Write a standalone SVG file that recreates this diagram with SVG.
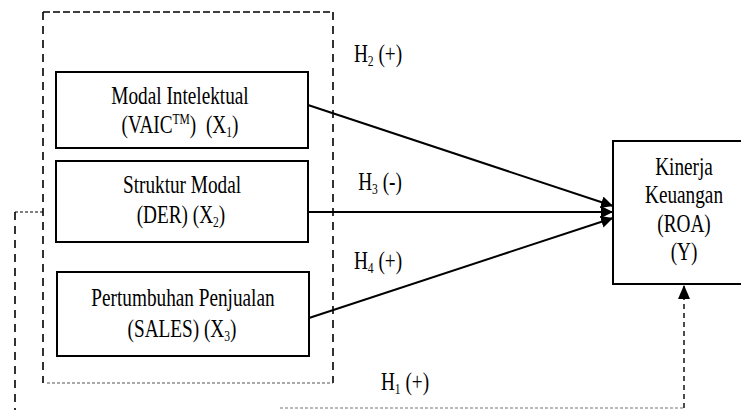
<svg xmlns="http://www.w3.org/2000/svg" width="741" height="410" viewBox="0 0 741 410">
<style>
.box{fill:#fff;stroke:#000;stroke-width:2}
.t{font-family:"Liberation Serif","Times New Roman",serif;font-size:25px;fill:#000;text-anchor:middle}
.sub{font-size:15px}
.edge{stroke:#000;stroke-width:2;fill:none}
</style>
<defs>
<marker id="ah" markerUnits="userSpaceOnUse" markerWidth="14" markerHeight="14" refX="12" refY="6" orient="auto">
<path d="M0,0 L12,6 L0,12 Z" fill="#000"/>
</marker>
<marker id="ah2" markerUnits="userSpaceOnUse" markerWidth="14" markerHeight="16" refX="14" refY="6" orient="auto">
<path d="M0,0 L14,6 L0,12 Z" fill="#000"/>
</marker>
</defs>
<rect width="741" height="410" fill="#fff"/>

<g id="group-outline">
<path d="M43,12 H333" stroke="#000" stroke-width="1.6" stroke-dasharray="7,3" fill="none"/>
<path d="M43,12 V383 M333,12 V383" stroke="#000" stroke-width="1.6" stroke-dasharray="8,6" fill="none"/>
<path d="M47,383 H333" stroke="#555" stroke-width="1.2" stroke-dasharray="3,2" fill="none"/>
</g>

<g id="connectors">
<line class="edge" x1="308" y1="105" x2="613" y2="206" marker-end="url(#ah)"/>
<line class="edge" x1="305" y1="212" x2="613" y2="212" marker-end="url(#ah)"/>
<line class="edge" x1="309" y1="318" x2="613" y2="218" marker-end="url(#ah)"/>
<path d="M43,212 H15" stroke="#000" stroke-width="1.2" stroke-dasharray="3,2" fill="none"/>
<path d="M15,212 V410" stroke="#000" stroke-width="1.6" stroke-dasharray="8,6" fill="none"/>
<path d="M280,408 H684" stroke="#777" stroke-width="1.2" stroke-dasharray="3,2" fill="none"/>
<path d="M684,408 V285" stroke="#000" stroke-width="1.4" stroke-dasharray="5,4" fill="none" marker-end="url(#ah2)"/>
</g>

<g id="labels">
<text class="t" transform="translate(378,0) scale(0.77,1)" x="0" y="62" xml:space="preserve">H<tspan class="sub" dy="4">2</tspan><tspan dy="-4"> (+)</tspan></text>
<text class="t" transform="translate(380,0) scale(0.77,1)" x="0" y="190" xml:space="preserve">H<tspan class="sub" dy="4">3</tspan><tspan dy="-4"> (-)</tspan></text>
<text class="t" transform="translate(378,0) scale(0.77,1)" x="0" y="269" xml:space="preserve">H<tspan class="sub" dy="4">4</tspan><tspan dy="-4"> (+)</tspan></text>
<text class="t" transform="translate(405,0) scale(0.77,1)" x="0" y="390" xml:space="preserve">H<tspan class="sub" dy="4">1</tspan><tspan dy="-4"> (+)</tspan></text>
</g>

<g id="node-x1">
<rect class="box" x="56" y="72" width="252" height="76"/>
<text class="t" transform="translate(180,0) scale(0.77,1)" x="0" y="104">Modal Intelektual</text>
<text class="t" transform="translate(180,0) scale(0.77,1)" x="0" y="133" xml:space="preserve">(VAIC<tspan class="sub" dy="-9">TM</tspan><tspan dy="9">)  (X</tspan><tspan class="sub" dy="4">1</tspan><tspan dy="-4">)</tspan></text>
</g>

<g id="node-x2">
<rect class="box" x="56" y="161" width="252" height="81"/>
<text class="t" transform="translate(182,0) scale(0.77,1)" x="0" y="193">Struktur Modal</text>
<text class="t" transform="translate(181,0) scale(0.77,1)" x="0" y="223">(DER) (X<tspan class="sub" dy="4">2</tspan><tspan dy="-4">)</tspan></text>
</g>

<g id="node-x3">
<rect class="box" x="57" y="272" width="252" height="84"/>
<text class="t" transform="translate(183,0) scale(0.77,1)" x="0" y="306">Pertumbuhan Penjualan</text>
<text class="t" transform="translate(182,0) scale(0.77,1)" x="0" y="337">(SALES) (X<tspan class="sub" dy="4">3</tspan><tspan dy="-4">)</tspan></text>
</g>

<g id="node-y">
<rect class="box" x="613" y="141" width="140" height="143"/>
<text class="t" transform="translate(684,0) scale(0.77,1)" x="0" y="175">Kinerja</text>
<text class="t" transform="translate(684,0) scale(0.77,1)" x="0" y="203">Keuangan</text>
<text class="t" transform="translate(684,0) scale(0.77,1)" x="0" y="232">(ROA)</text>
<text class="t" transform="translate(684,0) scale(0.77,1)" x="0" y="260">(Y)</text>
</g>
</svg>
